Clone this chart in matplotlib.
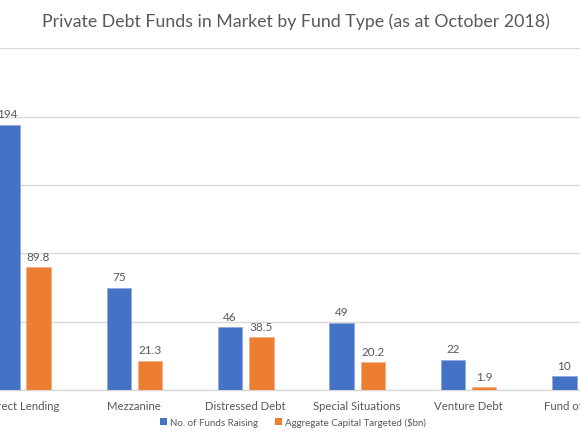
import matplotlib
matplotlib.use("Agg")
import matplotlib.pyplot as plt
import numpy as np
from matplotlib.patches import Patch

plt.rcParams["font.family"] = ["Lato", "DejaVu Sans"]

TXT = "#595959"
GRID = "#D9D9D9"
BLUE = "#4472C4"
ORANGE = "#ED7D31"

# Fund types and values (as at October 2018)
categories = ["Direct Lending", "Mezzanine", "Distressed Debt",
              "Special Situations", "Venture Debt", "Fund of Funds"]
funds_raising = [194, 75, 46, 49, 22, 10]
capital_bn = [89.8, 21.3, 38.5, 20.2, 1.9, 3.0]

fig = plt.figure(figsize=(5.8, 4.35), dpi=100)
ax = fig.add_axes([0.0, 0.1011, 1.0, 0.7856])

x = np.arange(len(categories))
w = 0.22
off = 0.14

b1 = ax.bar(x - off, funds_raising, w, color=BLUE, edgecolor="#8FA9DC",
            linewidth=0.6, zorder=3)
b2 = ax.bar(x + off, capital_bn, w, color=ORANGE, edgecolor="#F4B183",
            linewidth=0.6, zorder=3)

for bars, vals, fmt in ((b1, funds_raising, "{:d}"), (b2, capital_bn, "{:.1f}")):
    for r, v in zip(bars, vals):
        ax.annotate(fmt.format(v), xy=(r.get_x() + r.get_width() / 2, v),
                    xytext=(0, 4), textcoords="offset points",
                    ha="center", va="bottom", fontsize=8.5, color=TXT)

ax.set_xlim(-0.206, 4.996)
ax.set_ylim(0, 250)
ax.set_yticks([0, 50, 100, 150, 200, 250])
ax.yaxis.grid(True, color=GRID, linewidth=1.0, zorder=0)
ax.tick_params(axis="y", left=False, labelleft=False)
ax.tick_params(axis="x", bottom=False, pad=4, labelsize=8.2, colors=TXT)
ax.set_xticks(x)
ax.set_xticklabels(categories)
for s in ("top", "left", "right"):
    ax.spines[s].set_visible(False)
ax.spines["bottom"].set_color(GRID)
ax.spines["bottom"].set_linewidth(1.0)

fig.text(0.511, 1 - 22 / 435, "Private Debt Funds in Market by Fund Type (as at October 2018)",
         ha="center", va="center", fontsize=12.8, color=TXT)

handles = [Patch(facecolor=BLUE, label="No. of Funds Raising"),
           Patch(facecolor=ORANGE, label="Aggregate Capital Targeted ($bn)")]
fig.legend(handles=handles, loc="center", bbox_to_anchor=(0.505, 1 - 423 / 435),
           ncol=2, frameon=False, fontsize=7, labelcolor=TXT,
           handlelength=0.7, handleheight=0.7, handletextpad=0.3, columnspacing=1.8)

fig.savefig("out.png", dpi=100)
